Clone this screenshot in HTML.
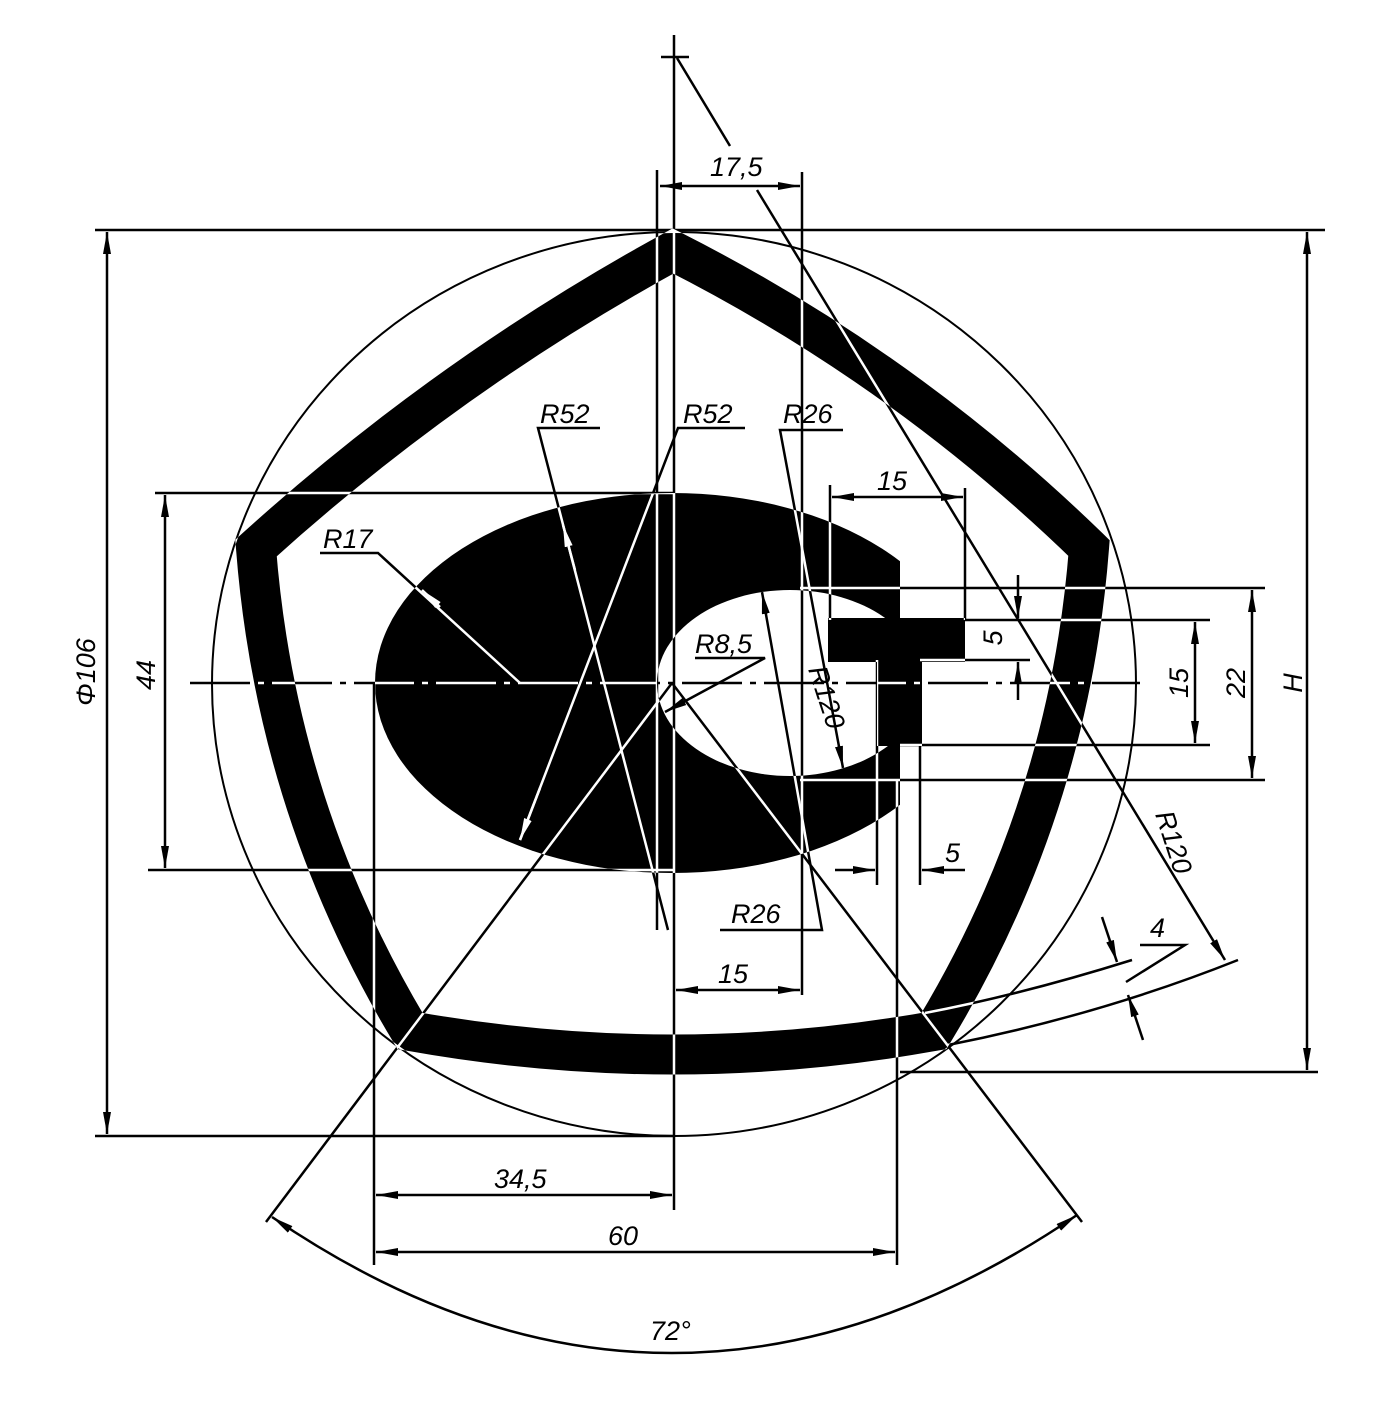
<!DOCTYPE html>
<html><head><meta charset="utf-8"><style>
html,body{margin:0;padding:0;background:#fff;}
svg{display:block;isolation:isolate}
text{font-family:"Liberation Sans",sans-serif;font-style:italic;font-size:27px;fill:#000}
</style></head><body>
<svg width="1392" height="1416" viewBox="0 0 1392 1416" xmlns="http://www.w3.org/2000/svg">
<defs>
<marker id="a" viewBox="0 0 22 8" refX="22" refY="4" markerWidth="22" markerHeight="8" markerUnits="userSpaceOnUse" orient="auto-start-reverse"><path d="M0,0 L22,4 L0,8 Z" fill="#fff"/></marker>
<clipPath id="ec"><rect x="0" y="0" width="900" height="1416"/></clipPath>
</defs>
<rect width="1392" height="1416" fill="#fff"/>
<path d="M673,251 Q904,368 1089,548 Q1069,808 934,1031 Q672,1078 410,1031 Q276,808 256,548 Q448,374 673,251 Z" fill="none" stroke="#000" stroke-width="40" stroke-linejoin="miter" stroke-miterlimit="10"/>
<g clip-path="url(#ec)"><ellipse cx="672" cy="683" rx="297" ry="190" fill="#000"/></g>
<ellipse cx="790" cy="683" rx="133" ry="93" fill="#fff"/>
<rect x="900" y="540" width="120" height="70" fill="#fff"/>
<rect x="828" y="618" width="137" height="44" fill="#000"/>
<rect x="877" y="618" width="45" height="128" fill="#000"/>
<g style="mix-blend-mode:difference" stroke="#fff" stroke-width="2.5" fill="none">
<ellipse cx="674" cy="684" rx="462" ry="452" stroke-width="2"/>
<line x1="674" y1="35" x2="674" y2="1210"/>
<line x1="661" y1="57" x2="689" y2="57"/>
<line x1="190" y1="683" x2="1140" y2="683" stroke-dasharray="60,8,6,8"/>
<line x1="677" y1="58" x2="730" y2="146"/>
<line x1="757" y1="190" x2="1225" y2="960" marker-end="url(#a)"/>
<line x1="657" y1="170" x2="657" y2="930"/>
<line x1="802" y1="172" x2="802" y2="995"/>
<line x1="660" y1="186" x2="800" y2="186" marker-start="url(#a)" marker-end="url(#a)"/>
<line x1="95" y1="230" x2="1325" y2="230"/>
<line x1="107" y1="232" x2="107" y2="1134" marker-start="url(#a)" marker-end="url(#a)"/>
<line x1="95" y1="1136" x2="674" y2="1136"/>
<line x1="155" y1="493" x2="674" y2="493"/>
<line x1="148" y1="870" x2="674" y2="870"/>
<line x1="165" y1="495" x2="165" y2="868" marker-start="url(#a)" marker-end="url(#a)"/>
<line x1="900" y1="1072" x2="1318" y2="1072"/>
<line x1="1307" y1="232" x2="1307" y2="1070" marker-start="url(#a)" marker-end="url(#a)"/>
<line x1="800" y1="588" x2="1265" y2="588"/>
<line x1="800" y1="780" x2="1265" y2="780"/>
<line x1="1252" y1="590" x2="1252" y2="778" marker-start="url(#a)" marker-end="url(#a)"/>
<line x1="965" y1="620" x2="1210" y2="620"/>
<line x1="900" y1="745" x2="1210" y2="745"/>
<line x1="1195" y1="622" x2="1195" y2="743" marker-start="url(#a)" marker-end="url(#a)"/>
<line x1="920" y1="660" x2="1030" y2="660"/>
<line x1="1018" y1="575" x2="1018" y2="618" marker-end="url(#a)"/>
<line x1="1018" y1="700" x2="1018" y2="662" marker-end="url(#a)"/>
<line x1="830" y1="485" x2="830" y2="620"/>
<line x1="965" y1="488" x2="965" y2="620"/>
<line x1="832" y1="497" x2="963" y2="497" marker-start="url(#a)" marker-end="url(#a)"/>
<line x1="877" y1="660" x2="877" y2="885"/>
<line x1="920" y1="745" x2="920" y2="885"/>
<line x1="835" y1="870" x2="875" y2="870" marker-end="url(#a)"/>
<line x1="965" y1="870" x2="922" y2="870" marker-end="url(#a)"/>
<line x1="676" y1="990" x2="800" y2="990" marker-start="url(#a)" marker-end="url(#a)"/>
<line x1="374" y1="683" x2="374" y2="1265"/>
<line x1="897" y1="780" x2="897" y2="1265"/>
<line x1="376" y1="1195" x2="672" y2="1195" marker-start="url(#a)" marker-end="url(#a)"/>
<line x1="376" y1="1252" x2="895" y2="1252" marker-start="url(#a)" marker-end="url(#a)"/>
<line x1="672" y1="683" x2="266" y2="1222"/>
<line x1="672" y1="683" x2="1082" y2="1222"/>
<path d="M272,1217 Q672,1490 1077,1215" marker-start="url(#a)" marker-end="url(#a)"/>
<polyline points="600,428 538,428 668,930"/>
<line x1="575" y1="570" x2="563" y2="525" marker-end="url(#a)"/>
<polyline points="745,428 678,428 520,840"/>
<line x1="540" y1="788" x2="520" y2="840" marker-end="url(#a)"/>
<polyline points="843,430 780,430 843,768" marker-end="url(#a)"/>
<polyline points="720,930 822,930 762,592" marker-end="url(#a)"/>
<polyline points="320,553 378,553 520,683"/>
<line x1="440" y1="607" x2="422" y2="590" marker-end="url(#a)"/>
<polyline points="695,658 765,658 665,712" marker-end="url(#a)"/>
<path d="M925,1013 Q1020,995 1132,960"/>
<path d="M948,1045 Q1100,1015 1238,960"/>
<line x1="1102" y1="917" x2="1117" y2="962" marker-end="url(#a)"/>
<line x1="1143" y1="1040" x2="1128" y2="995" marker-end="url(#a)"/>
<polyline points="1140,945 1185,945 1126,982"/>
</g>
<text x="710" y="176">17,5</text>
<text x="540" y="423">R52</text>
<text x="683" y="423">R52</text>
<text x="783" y="423">R26</text>
<text x="323" y="548">R17</text>
<text x="695" y="653">R8,5</text>
<text x="877" y="490">15</text>
<text x="731" y="923">R26</text>
<text x="718" y="983">15</text>
<text x="945" y="862">5</text>
<text x="494" y="1188">34,5</text>
<text x="608" y="1245">60</text>
<text x="650" y="1340">72°</text>
<text x="1150" y="937">4</text>
<text transform="translate(1002,638) rotate(-90)" text-anchor="middle">5</text>
<text transform="translate(1188,683) rotate(-90)" text-anchor="middle">15</text>
<text transform="translate(1245,683) rotate(-90)" text-anchor="middle">22</text>
<text transform="translate(1302,683) rotate(-90)" text-anchor="middle">H</text>
<text transform="translate(95,672) rotate(-90)" text-anchor="middle">Φ106</text>
<text transform="translate(155,675) rotate(-90)" text-anchor="middle">44</text>
<text transform="translate(818,700) rotate(72)" text-anchor="middle">R120</text>
<text transform="translate(1165,845) rotate(72)" text-anchor="middle">R120</text>
</svg>
</body></html>
